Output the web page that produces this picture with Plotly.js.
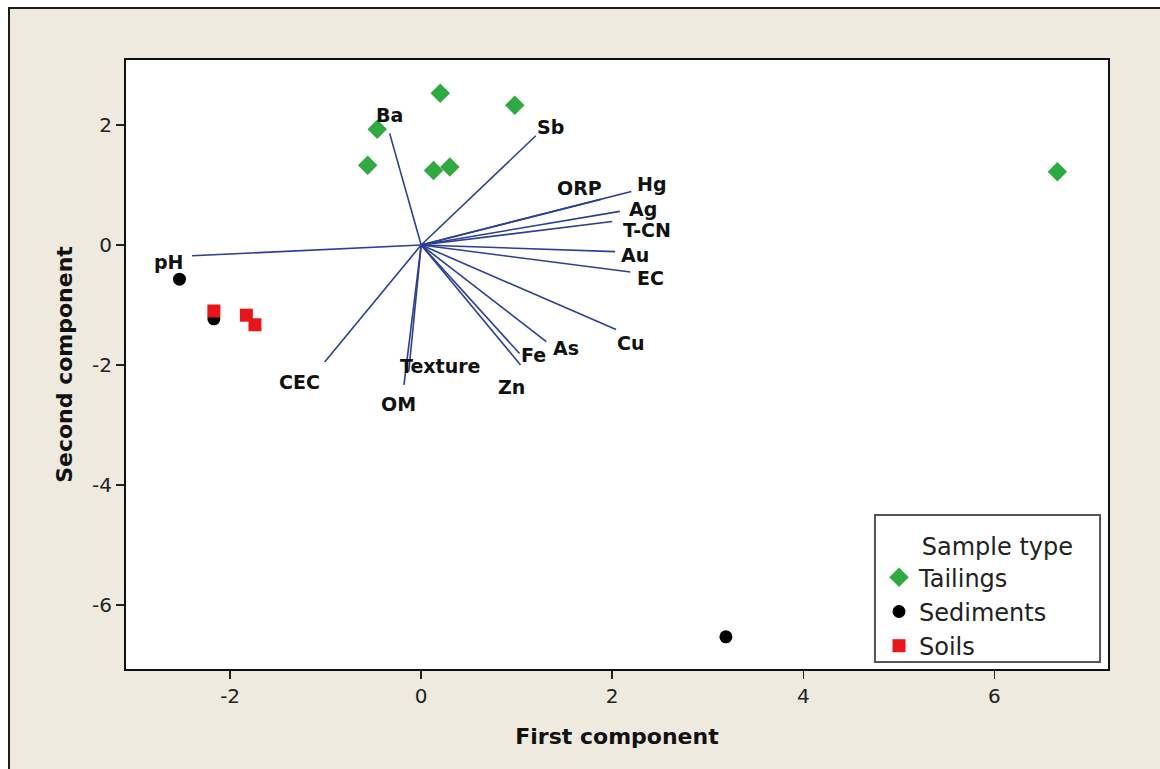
<!DOCTYPE html>
<html>
<head>
<meta charset="utf-8">
<script src="https://cdn.plot.ly/plotly-3.0.1.min.js"></script>
<style>
  html, body { margin: 0; padding: 0; background: #ffffff; }
  #frame {
    position: absolute; left: 8px; top: 7px;
    width: 1152px; height: 762px;
    border-left: 2px solid #1c1c1c; border-top: 2px solid #1c1c1c;
    box-sizing: border-box; background: #eeeae0;
  }
  #chart { width: 1150px; height: 760px; }
</style>
</head>
<body>
<div id="frame"><div id="chart"></div></div>
<script>
// PCA scores (first / second component) per sample type
const tailingsPC1 = [0.20, 0.98, -0.46, -0.56, 0.13, 0.30, 6.66];
const tailingsPC2 = [2.53, 2.33, 1.93, 1.33, 1.24, 1.30, 1.22];
const sedimentsPC1 = [-2.53, -2.17, 3.19];
const sedimentsPC2 = [-0.57, -1.23, -6.53];
const soilsPC1 = [-2.17, -1.83, -1.74];
const soilsPC2 = [-1.10, -1.17, -1.33];

// Variable loadings (biplot vectors from the origin)
const variables = ['pH', 'Ba', 'Sb', 'ORP', 'Hg', 'Ag', 'T-CN', 'Au', 'EC', 'Cu', 'As', 'Fe', 'Zn', 'Texture', 'OM', 'CEC'];
const loadingPC1 = [-2.40, -0.33, 1.20, 1.88, 2.20, 2.08, 2.00, 2.03, 2.19, 2.04, 1.31, 1.03, 1.04, -0.13, -0.18, -1.01];
const loadingPC2 = [-0.18, 1.86, 1.82, 0.76, 0.89, 0.56, 0.39, -0.11, -0.45, -1.41, -1.61, -1.81, -2.00, -2.11, -2.33, -1.95];

const xTicks = [-2, 0, 2, 4, 6];
const yTicks = [-6, -4, -2, 0, 2];

// Pixel nudges for the variable labels relative to each vector tip
const labelShift = {
  'pH': [-23, -6], 'Ba': [0, 18], 'Sb': [15, 9], 'ORP': [-21, 11], 'Hg': [21, 8],
  'Ag': [23, 2], 'T-CN': [35, -8], 'Au': [20, -3], 'EC': [20, -6], 'Cu': [14, -13],
  'As': [20, -6], 'Fe': [14, -1], 'Zn': [-9, -22], 'Texture': [31, 6], 'OM': [-5, -19],
  'CEC': [-25, -20]
};

// Build one polyline trace with gaps between vectors
const vx = [], vy = [];
variables.forEach((v, i) => {
  vx.push(0, loadingPC1[i], null);
  vy.push(0, loadingPC2[i], null);
});

const traces = [
  {
    x: vx, y: vy, type: 'scatter', mode: 'lines',
    line: { color: '#2b3f95', width: 1.6 },
    hoverinfo: 'skip', showlegend: false
  },
  {
    x: tailingsPC1, y: tailingsPC2, type: 'scatter', mode: 'markers', name: 'Tailings',
    marker: { symbol: 'diamond', size: 15, color: '#2faa43' }
  },
  {
    x: sedimentsPC1, y: sedimentsPC2, type: 'scatter', mode: 'markers', name: 'Sediments',
    marker: { symbol: 'circle', size: 13, color: '#000000' }
  },
  {
    x: soilsPC1, y: soilsPC2, type: 'scatter', mode: 'markers', name: 'Soils',
    marker: { symbol: 'square', size: 13, color: '#e8161b' }
  }
];

const annotations = variables.map((v, i) => ({
  x: loadingPC1[i], y: loadingPC2[i], xref: 'x', yref: 'y',
  text: '<b>' + v + '</b>', showarrow: false,
  xanchor: 'center', yanchor: 'middle',
  xshift: labelShift[v][0], yshift: labelShift[v][1],
  font: { family: 'DejaVu Sans', size: 19, color: '#111111' }
}));

const axisCommon = {
  showgrid: false, zeroline: false,
  showline: true, linecolor: '#111111', linewidth: 2, mirror: true,
  ticks: 'outside', ticklen: 8, tickwidth: 1.5, tickcolor: '#222222',
  tickfont: { family: 'DejaVu Sans', size: 20, color: '#222222' }
};

const layout = {
  width: 1150, height: 760,
  paper_bgcolor: '#eeeae0', plot_bgcolor: '#ffffff',
  margin: { l: 116, r: 52, t: 51, b: 100 },
  xaxis: Object.assign({}, axisCommon, {
    range: [-3.09, 7.19], tickvals: xTicks, ticktext: xTicks.map(String),
    title: { text: '<b>First component</b>', standoff: 22,
             font: { family: 'DejaVu Sans', size: 22, color: '#111111' } }
  }),
  yaxis: Object.assign({}, axisCommon, {
    range: [-7.067, 3.083], tickvals: yTicks, ticktext: yTicks.map(String),
    title: { text: '<b>Second component</b>', standoff: 13,
             font: { family: 'DejaVu Sans', size: 22, color: '#111111' } }
  }),
  // Legend box drawn as a frame; the legend entries sit inside it
  shapes: [{
    type: 'rect', xref: 'paper', yref: 'paper',
    x0: 0.7627, x1: 0.9919, y0: 0.0115, y1: 0.2529,
    fillcolor: '#ffffff', line: { color: '#555555', width: 2 }, layer: 'above'
  }],
  legend: {
    x: 0.7668, y: 0.2381, xanchor: 'left', yanchor: 'top',
    bgcolor: 'rgba(0,0,0,0)', borderwidth: 0,
    font: { family: 'DejaVu Sans', size: 24, color: '#222222' },
    title: {
      text: '\u2003\u2002\u2009Sample type',
      font: { family: 'DejaVu Sans', size: 24, color: '#222222' }
    },
    traceorder: 'normal'
  },
  annotations: annotations,
  showlegend: true
};

Plotly.newPlot('chart', traces, layout, { displayModeBar: false, staticPlot: true });
</script>
</body>
</html>
